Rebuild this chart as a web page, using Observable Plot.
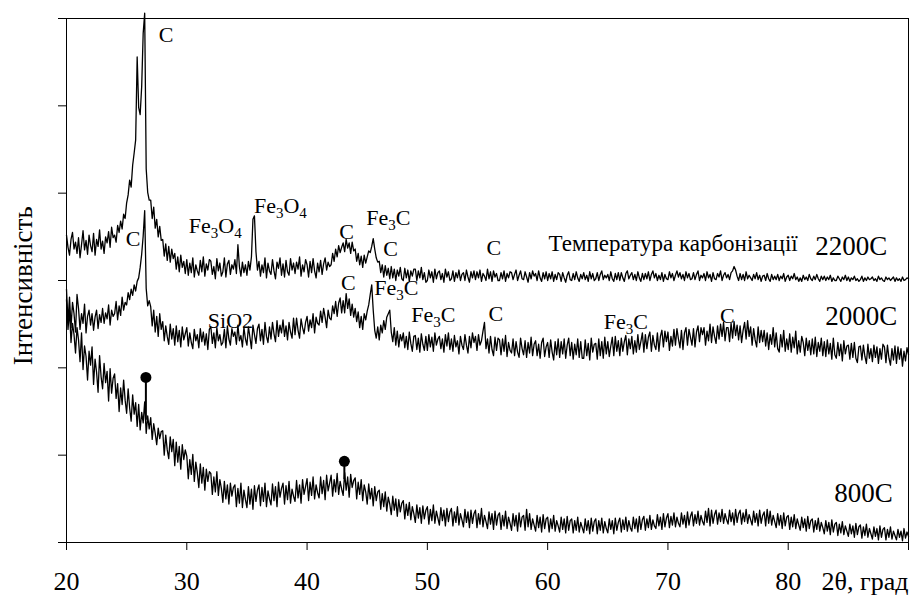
<!DOCTYPE html>
<html>
<head>
<meta charset="utf-8">
<script src="https://cdn.jsdelivr.net/npm/d3@7"></script>
<script src="https://cdn.jsdelivr.net/npm/@observablehq/plot@0.6"></script>
<style>
  html, body { margin: 0; padding: 0; background: #fff; }
  #chart svg { display: block; }
  #chart svg text, #chart svg tspan { font-family: 'Liberation Serif', 'DejaVu Serif', serif !important; }
</style>
</head>
<body>
<div id="chart"></div>
<script>
// 2θ sampling grid (degrees), 0.125° step from 20 to 90
const angleStart = 20, angleStep = 0.125;

// Intensity (arbitrary units, one y tick = 100), one row per degree (20°..89°, then 90°)
const s2200 = [
  352,338,329,347,355,336,344,331,
  349,326,341,357,335,346,330,352,
  340,333,354,329,347,339,358,336,
  345,331,350,343,356,338,361,349,
  352,344,363,355,368,359,376,371,
  389,398,415,407,432,446,461,556,
  498,490,522,583,606,428,401,392,
  392,371,384,360,370,350,362,346,
  347,328,342,323,339,321,336,325,
  331,313,327,310,329,315,322,308,
  324,306,320,309,326,304,318,311,
  306,323,310,327,305,319,312,324,
  322,307,316,302,325,311,320,305,
  310,326,304,319,323,307,318,313,
  324,308,341,316,305,321,309,318,
  306,322,312,327,370,374,333,312,
  322,305,318,309,326,303,320,311,
  307,324,311,302,321,314,326,306,
  319,304,323,310,306,325,312,320,
  308,321,313,327,305,318,310,324,
  318,304,322,309,325,311,303,320,
  310,323,307,319,326,312,321,316,
  318,331,322,336,327,340,332,338,
  343,333,347,337,343,331,344,334,
  336,322,331,318,328,315,329,320,
  327,334,332,339,348,336,326,321,
  322,309,318,304,317,306,314,302,
  316,303,313,300,312,305,315,302,
  300,314,303,312,299,311,305,313,
  313,300,311,303,315,301,309,298,
  300,312,303,310,298,313,302,309,
  311,301,308,298,313,304,310,300,
  302,311,299,309,303,312,300,307,
  309,300,312,304,298,310,303,311,
  301,310,303,312,299,308,305,300,
  313,302,310,299,311,304,308,300,
  300,309,302,311,299,308,303,310,
  309,301,307,312,300,306,311,302,
  301,310,304,298,309,302,311,305,
  308,300,311,303,299,309,302,310,
  300,308,302,310,299,307,301,309,
  307,299,309,303,298,306,310,301,
  300,308,301,310,303,299,307,302,
  309,301,306,299,310,302,308,300,
  302,309,300,307,311,301,306,303,
  307,300,310,302,299,308,301,309,
  300,309,303,299,308,311,302,306,
  309,301,307,300,310,303,299,308,
  301,308,302,310,300,307,311,303,
  308,300,306,301,309,299,307,302,
  301,310,303,308,300,306,311,304,
  309,302,307,300,310,303,308,301,
  302,309,301,307,311,300,306,303,
  308,300,310,303,307,299,309,302,
  301,308,304,311,300,306,309,303,
  307,301,309,311,316,312,305,300,
  308,301,307,300,310,302,306,303,
  300,307,302,309,301,306,299,305,
  306,300,308,302,299,307,301,305,
  301,307,300,305,302,308,299,304,
  306,300,305,302,308,301,304,299,
  303,299,306,301,304,300,307,302,
  300,305,301,307,302,299,305,301,
  305,300,304,301,306,299,303,300,
  300,305,302,299,304,301,306,300,
  304,299,303,301,305,300,302,299,
  301,305,299,303,300,304,301,302,
  304,300,302,299,305,301,303,300,
  299,304,301,303,300,302,304,299,
  303,300,302,299,304,300,301,303,
  302
];
const s2000 = [
  290,252,281,246,275,262,241,284,
  268,244,262,251,273,240,259,266,
  249,262,243,258,266,245,261,252,
  268,251,263,256,272,249,266,259,
  262,276,255,271,260,281,266,275,
  272,286,278,290,283,295,288,299,
  303,315,330,351,380,291,271,277,
  270,248,266,241,259,236,262,244,
  253,231,248,236,227,250,233,245,
  226,248,230,243,224,247,232,239,
  246,225,240,229,222,244,231,238,
  223,245,230,241,226,239,221,244,
  247,228,240,223,246,231,238,226,
  229,244,223,248,233,226,245,236,
  241,227,249,231,237,224,246,233,
  226,247,235,222,249,238,228,245,
  250,231,244,227,252,236,229,247,
  233,252,239,230,254,236,249,240,
  255,236,248,232,252,241,234,257,
  238,257,243,234,256,246,239,252,
  259,242,255,246,262,240,258,251,
  249,265,252,268,258,246,266,257,
  255,271,262,276,259,274,280,263,
  277,263,285,268,279,260,273,258,
  268,253,264,246,259,244,262,255,
  265,272,284,295,266,243,234,247,
  232,249,240,254,244,258,262,266,
  241,230,246,226,242,224,238,231,
  240,223,236,221,241,228,219,236,
  237,221,234,218,239,227,220,236,
  220,238,224,235,219,240,226,233,
  236,222,233,218,238,225,240,221,
  233,219,237,224,231,216,236,226,
  221,238,226,217,236,223,240,229,
  236,220,238,226,231,242,252,222,
  233,217,236,221,214,235,220,234,
  232,215,233,219,237,213,229,220,
  217,233,214,230,218,212,234,222,
  215,231,212,229,217,235,214,227,
  231,214,227,211,229,234,213,224,
  229,212,232,218,209,230,215,233,
  212,230,216,233,211,226,234,214,
  229,210,227,215,233,212,230,211,
  211,232,214,228,209,234,218,227,
  228,210,233,214,230,211,235,216,
  230,213,225,235,214,236,219,231,
  214,234,219,230,237,215,233,222,
  236,216,231,218,238,221,230,240,
  218,238,222,235,241,219,237,226,
  221,240,219,236,243,224,242,230,
  241,220,236,225,244,226,245,233,
  223,243,221,240,246,226,244,235,
  226,245,224,241,248,230,246,238,
  246,226,242,231,250,229,247,236,
  228,248,233,250,236,252,231,246,
  246,230,251,234,253,237,249,232,
  248,229,243,252,233,254,236,247,
  226,245,232,224,247,229,243,230,
  243,225,240,221,238,227,246,224,
  240,222,218,238,224,243,219,233,
  221,239,218,235,223,242,216,231,
  218,236,229,214,234,220,231,215,
  233,216,235,213,229,219,234,214,
  230,213,232,216,228,210,234,215,
  211,229,214,227,208,231,216,225,
  226,210,228,212,229,211,206,224,
  225,209,226,213,205,227,211,222,
  207,226,212,224,205,222,210,227,
  224,206,226,211,203,222,209,225,
  205,224,210,222,202,219,208,223,
  215
];
const s800 = [
  278,244,266,229,251,238,217,246,
  232,207,240,198,225,213,186,219,
  203,224,181,210,195,172,214,190,
  176,205,183,196,162,199,171,188,
  193,165,182,150,177,158,186,163,
  148,176,154,139,169,147,160,133,
  158,129,149,137,161,125,145,130,
  143,118,136,125,112,131,119,127,
  128,100,123,106,96,121,104,118,
  88,115,92,110,84,112,95,106,
  99,73,95,78,101,70,92,80,
  63,90,68,86,60,84,70,81,
  79,55,75,58,81,54,72,62,
  46,70,50,66,44,68,53,63,
  66,41,62,45,68,40,60,49,
  40,64,44,61,38,65,47,60,
  66,42,63,47,68,41,59,50,
  43,67,48,64,41,69,52,62,
  68,44,65,49,70,45,61,53,
  47,71,51,66,45,72,55,64,
  73,48,69,54,75,50,66,57,
  51,75,56,71,49,77,59,68,
  77,53,72,58,79,55,70,61,
  54,80,60,75,52,78,63,71,
  74,50,69,55,72,48,66,58,
  44,67,50,62,42,64,48,58,
  60,38,56,41,58,36,52,44,
  32,53,37,50,30,49,35,45,
  48,27,44,31,46,26,41,33,
  23,43,28,40,22,42,27,37,
  41,21,38,25,43,22,36,28,
  20,40,25,37,19,39,24,35,
  39,19,35,23,41,20,33,26,
  18,38,23,35,17,37,22,33,
  37,17,33,21,39,18,31,24,
  16,35,21,33,15,36,20,31,
  34,15,31,19,36,16,29,22,
  14,33,19,31,13,34,18,29,
  31,14,38,18,33,15,27,20,
  13,31,17,29,12,32,16,27,
  29,12,27,16,31,13,25,19,
  12,29,15,27,11,30,14,25,
  27,11,25,14,29,12,23,17,
  11,27,14,25,10,28,13,24,
  27,10,25,14,28,11,24,16,
  11,27,15,25,10,28,14,23,
  28,12,26,15,29,13,25,17,
  13,29,16,27,12,30,15,26,
  30,14,27,17,31,15,26,19,
  16,32,19,29,15,33,18,28,
  33,17,30,20,34,18,29,22,
  18,34,21,31,17,35,20,30,
  35,19,32,22,36,20,31,24,
  20,36,23,39,19,37,22,32,
  37,21,34,24,38,22,33,26,
  21,37,24,34,20,38,23,33,
  37,21,34,24,38,22,32,26,
  20,36,23,33,19,37,22,31,
  35,19,38,22,36,20,31,24,
  17,33,20,31,16,34,19,29,
  31,15,29,18,32,16,27,20,
  14,29,17,27,13,30,16,25,
  27,12,25,15,28,13,23,17,
  10,25,13,23,9,26,12,21,
  23,8,21,11,24,9,19,13,
  7,21,10,19,6,22,9,18,
  20,5,18,8,21,6,16,10,
  4,18,7,16,3,19,6,15,
  17,3,15,6,18,4,13,8,
  3,15,6,13,2,16,5,12,
  7
];

// Marked reflections on the 800C pattern (lollipops)
const markAngle = [26.6, 43.1];
const markTop = [189, 93];
const markBase = [140, 72];

// Phase labels (text, 2θ, intensity at baseline)
const phaseText = ["C", "C", "Fe_3O_4", "Fe_3O_4", "C", "Fe_3C", "C", "C", "C", "Fe_3C", "SiO2", "Fe_3C", "C", "Fe_3C", "C"];
const phaseX =    [27.67, 24.92, 30.17, 35.58, 42.67, 44.92, 46.33, 54.92, 42.83, 45.58, 31.75, 48.67, 55.08, 64.67, 74.33];
const phaseY =    [573, 340, 354, 377, 348, 363, 328, 329, 289, 283, 246, 252, 254, 245, 251];

// Series labels
const seriesText = ["2200C", "2000C", "800C"];
const seriesX = [82.25, 83.08, 83.83];
const seriesY = [329, 249, 46];

const noteText = "Температура карбонізації";
const xTicks = [20, 30, 40, 50, 60, 70, 80, 90];
const yTicks = [0, 100, 200, 300, 400, 500, 600];
const xAxisTitle = "2θ, град";
const yAxisTitle = "Інтенсивність";

const toRows = arr => arr.map((v, i) => ({t: angleStart + i * angleStep, v}));
const serif = "'Liberation Serif', 'DejaVu Serif', serif";

const chart = Plot.plot({
  width: 915,
  height: 596,
  marginLeft: 66,
  marginRight: 7,
  marginTop: 18,
  marginBottom: 54,
  x: {domain: [20, 90]},
  y: {domain: [0, 600]},
  style: {fontFamily: serif, background: "#fff", color: "#000", overflow: "visible"},
  marks: [
    Plot.frame({stroke: "#000", strokeWidth: 1}),
    Plot.axisX({ticks: xTicks, tickSize: 8, tickPadding: 21, fontSize: 26, fontFamily: serif,
      tickFormat: d => d < 90 ? String(d) : "", label: null}),
    Plot.axisY({ticks: yTicks, tickSize: 8, tickFormat: () => "", label: null}),
    Plot.text([xAxisTitle], {x: () => 90, y: () => 0,  text: d => d,
      dy: 29, lineAnchor: "top", textAnchor: "end", fontSize: 26, fontFamily: serif, fill: "#000"}),
    Plot.text([yAxisTitle], {x: () => 20, y: () => 294, text: d => d, rotate: -90, dx: -43,
      fontSize: 27, fontFamily: serif, fill: "#000"}),
    Plot.line(toRows(s2200), {x: "t", y: "v", stroke: "#000", strokeWidth: 1.3}),
    Plot.line(toRows(s2000), {x: "t", y: "v", stroke: "#000", strokeWidth: 1.3}),
    Plot.line(toRows(s800), {x: "t", y: "v", stroke: "#000", strokeWidth: 1.3}),
    Plot.ruleX(markAngle, {x: d => d, y1: (d, i) => markBase[i], y2: (d, i) => markTop[i], stroke: "#000", strokeWidth: 2}),
    Plot.dot(markAngle, {x: d => d, y: (d, i) => markTop[i], r: 5.5, fill: "#000", stroke: "none"}),
    Plot.text(phaseText, {x: (d, i) => phaseX[i], y: (d, i) => phaseY[i], text: d => d,
      textAnchor: "start", lineAnchor: "bottom", fontSize: 22, fontFamily: serif, fill: "#000"}),
    Plot.text(seriesText, {x: (d, i) => seriesX[i], y: (d, i) => seriesY[i], text: d => d,
      textAnchor: "start", lineAnchor: "bottom", fontSize: 27, fontFamily: serif, fill: "#000"}),
    Plot.text([noteText], {x: () => 60.08, y: () => 334, text: d => d,
      textAnchor: "start", lineAnchor: "bottom", fontSize: 23, fontFamily: serif, fill: "#000"})
  ]
});

// Chemical subscripts: "Fe_3O_4" -> Fe₃O₄ with real tspans
d3.select(chart).selectAll("text").each(function() {
  const t = this.textContent;
  if (!t.includes("_")) return;
  const sel = d3.select(this);
  sel.text(null);
  const parts = t.split(/_(\d)/);
  parts.forEach((p, i) => {
    if (!p) return;
    if (i % 2 === 1) sel.append("tspan").attr("font-size", 15).attr("dy", 5).text(p);
    else sel.append("tspan").attr("dy", i > 0 ? -5 : 0).text(p);
  });
});

document.getElementById("chart").appendChild(chart);
</script>
</body>
</html>
